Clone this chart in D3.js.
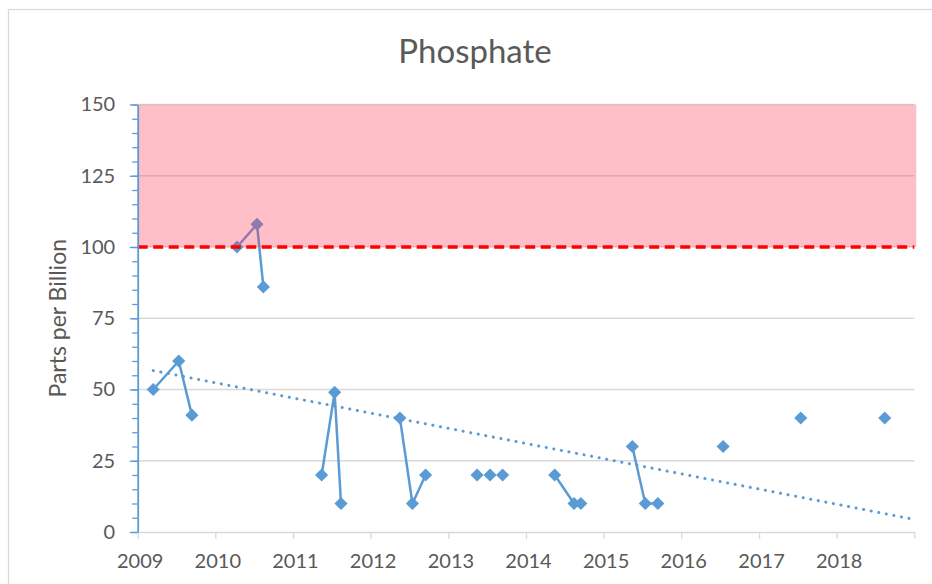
<!DOCTYPE html>
<html>
<head>
<meta charset="utf-8">
<script src="https://cdn.jsdelivr.net/npm/d3@7"></script>
<style>
  body { margin: 0; background: #fff; }
  svg { display: block; font-family: Lato, "Open Sans", sans-serif; }
</style>
</head>
<body>
<div id="chart"></div>
<script>
// sample dates, null marks a break in the line
var sampleDates = [
    "2009-03-15", "2009-07-13", "2009-09-13", null,
    "2010-04-13", "2010-07-16", "2010-08-15", null,
    "2011-05-16", "2011-07-16", "2011-08-15", null,
    "2012-05-18", "2012-07-16", "2012-09-16", null,
    "2013-05-16", null, "2013-07-16", null, "2013-09-13", null,
    "2014-05-16", "2014-08-15", "2014-09-16", null,
    "2015-05-16", "2015-07-16", "2015-09-13", null,
    "2016-07-16", null, "2017-07-16", null, "2018-08-15"
];
var phosphate = [
    50, 60, 41, null,
    100, 108, 86, null,
    20, 49, 10, null,
    40, 10, 20, null,
    20, null, 20, null, 20, null,
    20, 10, 10, null,
    30, 10, 10, null,
    30, null, 40, null, 40
];
var yTicks = [0, 25, 50, 75, 100, 125, 150];
var limitValue = 100;
var title = "Phosphate";
var yTitle = "Parts per Billion";

var width = 932, height = 584;
var parse = d3.timeParse("%Y-%m-%d");

var data = sampleDates.map(function(d, i) {
    return { date: d ? parse(d) : null, v: phosphate[i] };
});
var points = data.filter(function(d) { return d.v != null; });

var x = d3.scaleTime()
    .domain([new Date(2009, 0, 1), new Date(2019, 0, 1)])
    .range([137.7, 914.3]);
var y = d3.scaleLinear()
    .domain([0, 150])
    .range([532, 104.5]);

var svg = d3.select("#chart").append("svg")
    .attr("width", width)
    .attr("height", height);

svg.append("rect")
    .attr("width", width).attr("height", height)
    .attr("fill", "#fff");

// chart frame
svg.append("rect")
    .attr("x", 8.5).attr("y", 9.5)
    .attr("width", width + 20).attr("height", height + 20)
    .attr("fill", "none")
    .attr("stroke", "#d9d9d9")
    .attr("stroke-width", 1.2);

svg.append("text")
    .attr("x", 475).attr("y", 63)
    .attr("text-anchor", "middle")
    .attr("font-size", 33)
    .attr("fill", "#595959")
    .text(title);

// gridlines
svg.append("g").selectAll("line")
    .data(yTicks.filter(function(t) { return t > 0; }))
    .enter().append("line")
    .attr("x1", x.range()[0]).attr("x2", x.range()[1])
    .attr("y1", function(d) { return y(d); })
    .attr("y2", function(d) { return y(d); })
    .attr("stroke", "#d9d9d9")
    .attr("stroke-width", 1.3);

// x axis
var xAxis = svg.append("g")
    .attr("transform", "translate(0," + y(0) + ")")
    .call(d3.axisBottom(x)
        .ticks(d3.timeYear.every(1))
        .tickSize(7)
        .tickSizeOuter(0)
        .tickPadding(15)
        .tickFormat(function(d) { return d.getFullYear() < 2019 ? d.getFullYear() : ""; }));
xAxis.select(".domain").attr("stroke", "#d9d9d9").attr("stroke-width", 1.3);
xAxis.selectAll(".tick line").attr("stroke", "#d9d9d9").attr("stroke-width", 1.3);
xAxis.selectAll(".tick text")
    .attr("font-size", 20)
    .attr("font-family", "Lato, sans-serif")
    .attr("fill", "#595959")
    .attr("dx", 2);

// data line with gaps
var line = d3.line()
    .defined(function(d) { return d.v != null; })
    .x(function(d) { return x(d.date); })
    .y(function(d) { return y(d.v); });

svg.append("path")
    .datum(data)
    .attr("d", line)
    .attr("fill", "none")
    .attr("stroke", "#5b9bd5")
    .attr("stroke-width", 2.5)
    .attr("stroke-linejoin", "round");

svg.append("g").selectAll("path")
    .data(points)
    .enter().append("path")
    .attr("d", d3.symbol().type(d3.symbolDiamond2).size(110))
    .attr("transform", function(d) { return "translate(" + x(d.date) + "," + y(d.v) + ")"; })
    .attr("fill", "#5b9bd5");

// linear trend
var msYear = 365.25 * 24 * 3600 * 1000;
var xs = points.map(function(d) { return d.date.getTime() / msYear; });
var ys = points.map(function(d) { return d.v; });
var mx = d3.mean(xs), my = d3.mean(ys);
var sxy = d3.sum(xs, function(v, i) { return (v - mx) * (ys[i] - my); });
var sxx = d3.sum(xs, function(v) { return (v - mx) * (v - mx); });
var slope = sxy / sxx;
function trend(date) { return my + slope * (date.getTime() / msYear - mx); }
var tStart = points[0].date, tEnd = x.domain()[1];

svg.append("line")
    .attr("x1", x(tStart)).attr("y1", y(trend(tStart)))
    .attr("x2", x(tEnd)).attr("y2", y(trend(tEnd)))
    .attr("stroke", "#5b9bd5")
    .attr("stroke-width", 3)
    .attr("stroke-linecap", "round")
    .attr("stroke-dasharray", "0.1 7.6");

// exceedance band
svg.append("rect")
    .attr("x", x.range()[0])
    .attr("y", y(150))
    .attr("width", x.range()[1] - x.range()[0] + 2)
    .attr("height", y(limitValue) - y(150))
    .attr("fill", "rgb(255,55,85)")
    .attr("fill-opacity", 0.32);

svg.append("line")
    .attr("x1", x.range()[0]).attr("x2", x.range()[1])
    .attr("y1", y(limitValue)).attr("y2", y(limitValue))
    .attr("stroke", "#ff0000")
    .attr("stroke-width", 3.5)
    .attr("stroke-dasharray", "10 5.5");

// y axis, minor ticks then major
var yMinor = svg.append("g")
    .attr("transform", "translate(" + x.range()[0] + ",0)")
    .call(d3.axisLeft(y).tickValues(d3.range(0, 151, 5)).tickSize(5.5).tickSizeOuter(0).tickFormat(""));
yMinor.select(".domain").remove();
yMinor.selectAll(".tick line").attr("stroke", "#5b9bd5").attr("stroke-width", 1.3);

var yAxis = svg.append("g")
    .attr("transform", "translate(" + x.range()[0] + ",0)")
    .call(d3.axisLeft(y).tickValues(yTicks).tickSize(8).tickSizeOuter(0).tickPadding(14.5));
yAxis.select(".domain").attr("stroke", "#5b9bd5").attr("stroke-width", 1.8);
yAxis.selectAll(".tick line").attr("stroke", "#5b9bd5").attr("stroke-width", 1.3);
yAxis.selectAll(".tick text")
    .attr("font-size", 20)
    .attr("font-family", "Lato, sans-serif")
    .attr("fill", "#595959");

svg.append("text")
    .attr("transform", "translate(66," + (y(75)) + ") rotate(-90)")
    .attr("text-anchor", "middle")
    .attr("font-size", 23)
    .attr("fill", "#595959")
    .text(yTitle);
</script>
</body>
</html>
